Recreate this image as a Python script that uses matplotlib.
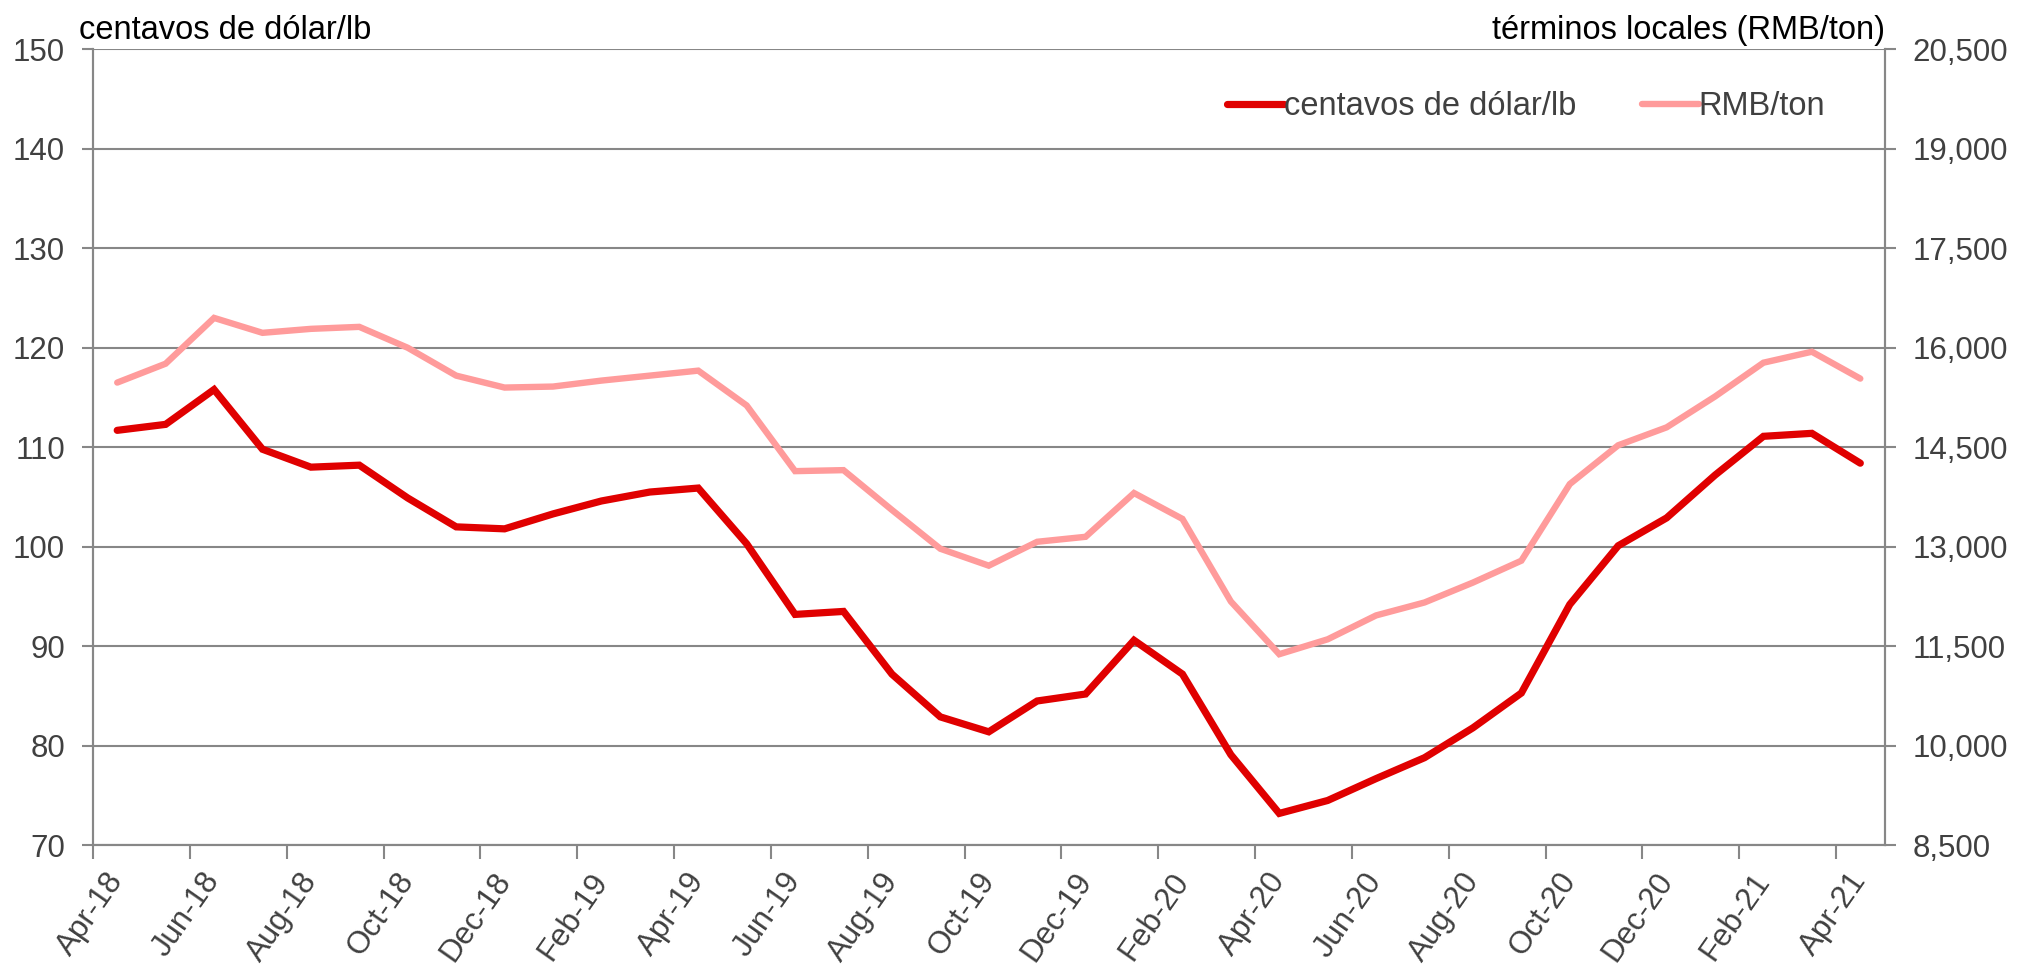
import matplotlib
matplotlib.use("Agg")
import matplotlib.pyplot as plt
import matplotlib.ticker as mticker
import numpy as np

plt.rcParams['font.family'] = ['Liberation Sans', 'DejaVu Sans']

months = ["Apr-18", "May-18", "Jun-18", "Jul-18", "Aug-18", "Sep-18", "Oct-18", "Nov-18",
          "Dec-18", "Jan-19", "Feb-19", "Mar-19", "Apr-19", "May-19", "Jun-19", "Jul-19",
          "Aug-19", "Sep-19", "Oct-19", "Nov-19", "Dec-19", "Jan-20", "Feb-20", "Mar-20",
          "Apr-20", "May-20", "Jun-20", "Jul-20", "Aug-20", "Sep-20", "Oct-20", "Nov-20",
          "Dec-20", "Jan-21", "Feb-21", "Mar-21", "Apr-21"]

usc_lb = [111.7, 112.3, 115.8, 109.8, 108.0, 108.2, 104.9, 102.0, 101.8, 103.3,
          104.6, 105.5, 105.9, 100.3, 93.2, 93.5, 87.2, 82.9, 81.4, 84.5,
          85.2, 90.6, 87.2, 79.1, 73.2, 74.5, 76.7, 78.8, 81.8, 85.3,
          94.2, 100.1, 102.9, 107.2, 111.1, 111.4, 108.4]

rmb_ton = [15475, 15760, 16450, 16225, 16285, 16315, 16000, 15580, 15400, 15415,
           15505, 15580, 15655, 15130, 14140, 14155, 13555, 12970, 12715, 13075,
           13150, 13810, 13420, 12175, 11380, 11605, 11965, 12160, 12460, 12790,
           13945, 14530, 14800, 15265, 15775, 15940, 15535]

left_ticks = [70, 80, 90, 100, 110, 120, 130, 140, 150]
right_ticks = [8500, 10000, 11500, 13000, 14500, 16000, 17500, 19000, 20500]

label_left = "centavos de dólar/lb"
label_right = "términos locales (RMB/ton)"
legend_usc = "centavos de dólar/lb"
legend_rmb = "RMB/ton"

RED = "#E00000"
PINK = "#FF9B9B"
GRID = "#878787"
TXT = "#404040"

fig = plt.figure(figsize=(20.22, 9.66), dpi=100)
ax = fig.add_axes([0.046, 0.125, 0.886, 0.824])
ax2 = ax.twinx()

n = len(months)
x = np.arange(n) + 0.5

l1, = ax.plot(x, usc_lb, color=RED, lw=5.2, solid_joinstyle='miter', solid_capstyle='round', zorder=3)
l2, = ax2.plot(x, rmb_ton, color=PINK, lw=4.6, solid_joinstyle='miter', solid_capstyle='round', zorder=2)

ax.set_xlim(0, n)
ax.set_ylim(70, 150)
ax2.set_ylim(8500, 20500)

ax.set_yticks(left_ticks)
ax2.set_yticks(right_ticks)
ax2.yaxis.set_major_formatter(mticker.FuncFormatter(lambda v, p: f"{int(v):,}"))

# x ticks: marks at category boundaries every 2 months, labels at category centers
ax.set_xticks(np.arange(0, n, 2))
ax.set_xticklabels([])
ax.set_xticks(np.arange(0, n, 2) + 0.5, minor=True)
ax.set_xticklabels(months[0::2], minor=True, rotation=55, ha='right', va='center',
                   rotation_mode='anchor', fontsize=22.5, color=TXT)
ax.tick_params(axis='x', which='major', length=10, width=1.5, color=GRID, direction='out')
ax.tick_params(axis='x', which='minor', length=0, pad=22)

ax.tick_params(axis='y', length=8, width=1.5, color=GRID, labelsize=22.5, labelcolor=TXT, pad=12)
ax2.tick_params(axis='y', length=8, width=1.5, color=GRID, labelsize=22.5, labelcolor=TXT, pad=12)

ax.grid(axis='y', color=GRID, lw=1.5)
ax.set_axisbelow(True)

for a in (ax, ax2):
    a.spines['top'].set_visible(False)
    for s in ('left', 'right', 'bottom'):
        a.spines[s].set_color(GRID)
        a.spines[s].set_linewidth(1.5)

ax.text(-0.008, 1.004, label_left, transform=ax.transAxes, ha='left', va='bottom',
        fontsize=23.5, color='black')
ax.text(1.0, 1.004, label_right, transform=ax.transAxes, ha='right', va='bottom',
        fontsize=23.5, color='black')

leg = ax2.legend([l1, l2], [legend_usc, legend_rmb], ncol=2, frameon=False,
                 loc='center', bbox_to_anchor=(0.80, 0.928), fontsize=23.5,
                 handlelength=1.75, handletextpad=0.0, columnspacing=2.0)
for t in leg.get_texts():
    t.set_color(TXT)

fig.savefig("out.png", dpi=100)
